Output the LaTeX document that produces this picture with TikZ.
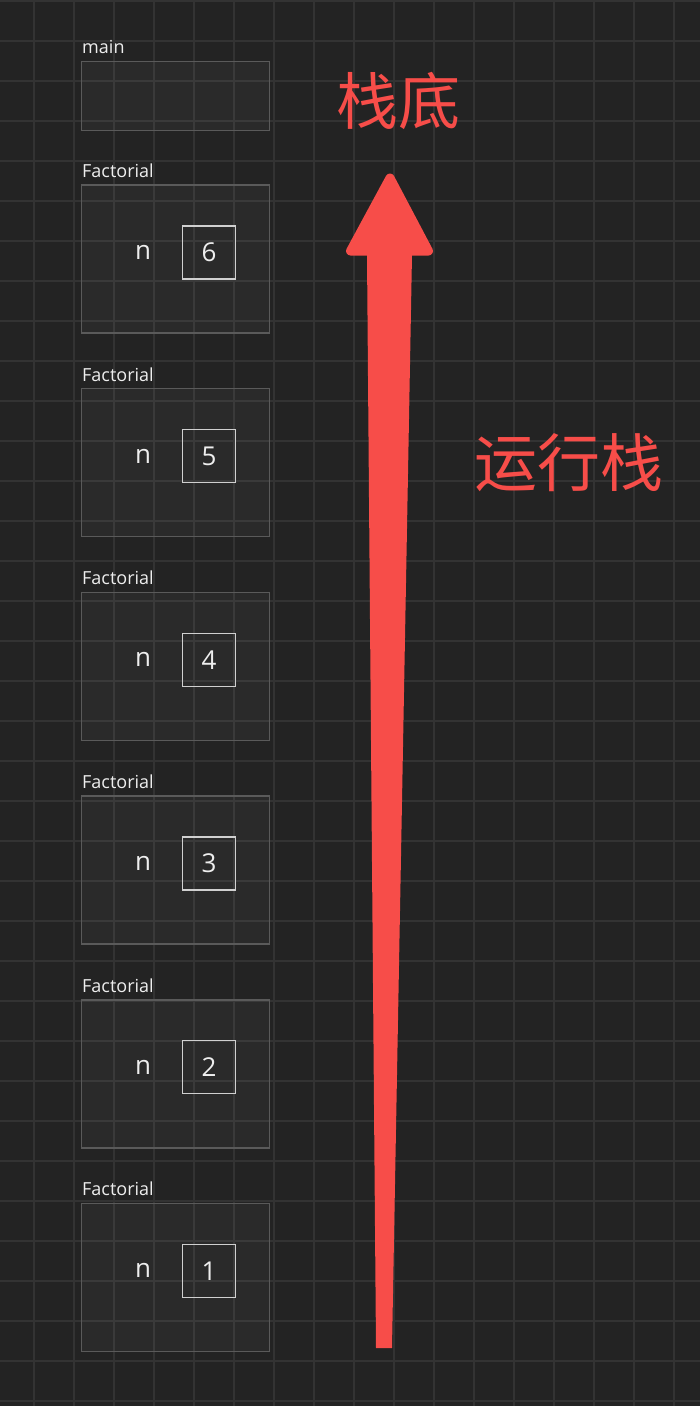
\documentclass[tikz,border=0pt]{standalone}
\usepackage{fontspec}
\setmainfont{Open Sans}
\newfontfamily\cjk{Noto Sans CJK SC}
\definecolor{bgc}{HTML}{232323}
\definecolor{gridc}{HTML}{333333}
\definecolor{framedraw}{HTML}{5A5A5A}
\definecolor{boxdraw}{HTML}{D0D0D0}
\definecolor{txtc}{HTML}{EEEEEE}
\definecolor{redc}{HTML}{F74D49}
\tikzset{
  gridline/.style={draw=gridc, line width=1.3pt},
  frame/.style={draw=framedraw, fill=white, fill opacity=0.035, line width=1.4pt, minimum width=188pt, minimum height=148pt, inner sep=0pt, anchor=north west},
  valbox/.style={draw=boxdraw, line width=1.4pt, minimum width=53pt, minimum height=53pt, inner sep=0pt, text=txtc, font=\fontsize{26}{26}\selectfont},
  varname/.style={text=txtc, inner sep=0pt, font=\fontsize{26}{26}\selectfont},
  framelabel/.style={text=txtc, inner sep=0pt, anchor=base west, font=\fontsize{18}{18}\selectfont},
  redtext/.style={text=redc, inner sep=0pt, font=\cjk\fontsize{62}{62}\selectfont}
}
\begin{document}
\begin{tikzpicture}[x=1pt,y=-1pt]
\fill[bgc] (0,0) rectangle (700,1406);
\useasboundingbox (0,0) rectangle (700,1406);
% grid
\foreach \k in {0,...,16} \draw[gridline] ({34+40*\k},0) -- ({34+40*\k},1406);
\foreach \k in {0,...,35} \draw[gridline] (0,{1+40*\k}) -- (700,{1+40*\k});
% main frame
\node[frame, minimum height=69pt] (mainframe) at (81,61) {};
\node[framelabel] (mainlabel) at (82,53) {main};
% factorial frames
\foreach \i/\v in {0/6,1/5,2/4,3/3,4/2,5/1}{
  \pgfmathsetmacro{\top}{184.3+203.7*\i}
  \node[frame] (f\v) at (81,\top) {};
  \node[framelabel] (l\v) at (82,\top-7) {Factorial};
  \node[valbox] (v\v) at (209,\top+68) {\v};
  \node[varname] (n\v) at (143,\top+68) {n};
}
% big arrow
\coordinate (shaftbl) at (376,1348);
\coordinate (shaftbr) at (392,1348);
\coordinate (shafttl) at (367,255);
\coordinate (shafttr) at (412,255);
\fill[redc] (shaftbl) -- (shafttl) -- (shafttr) -- (shaftbr) -- cycle;
\coordinate (headl) at (350.5,251);
\coordinate (headr) at (428.5,251);
\coordinate (headtip) at (390,178);
\filldraw[redc, line width=9pt, line join=round] (headl) -- (headtip) -- (headr) -- cycle;
% texts
\node[redtext] (bottomlabel) at (398,101) {栈底};
\node[redtext, font=\cjk\fontsize{63}{63}\selectfont] (stacklabel) at (568.5,462.5) {运行栈};
\end{tikzpicture}
\end{document}
